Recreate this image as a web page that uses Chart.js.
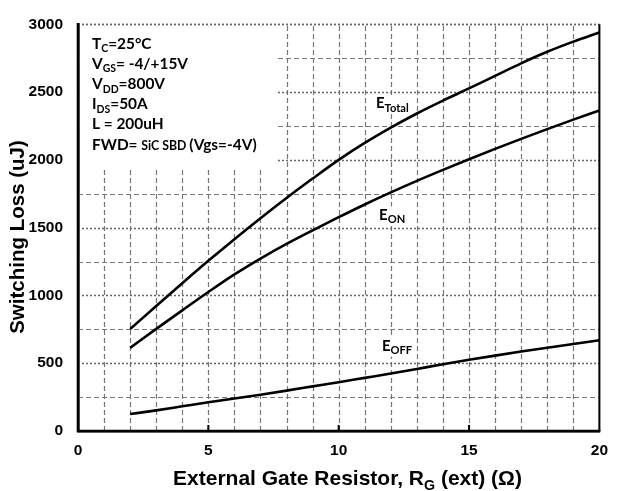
<!DOCTYPE html>
<html>
<head>
<meta charset="utf-8">
<script src="https://cdn.jsdelivr.net/npm/chart.js@4.4.1/dist/chart.umd.min.js"></script>
<style>
  html, body { margin: 0; padding: 0; background: #fff; }
</style>
</head>
<body>
<canvas id="chart" width="618" height="491"></canvas>
<script>
// gate resistance (ohm) and switching losses (uJ)
const rg     = [2, 3, 4, 5, 6, 7, 8, 9, 10, 11, 12, 13, 14, 15, 16, 17, 18, 19, 20];
const eTotal = [752, 922, 1090, 1255, 1415, 1570, 1719, 1862, 2000, 2125, 2238, 2342, 2437, 2527, 2620, 2712, 2797, 2872, 2940];
const eOn    = [613, 753, 890, 1025, 1155, 1272, 1380, 1480, 1577, 1671, 1760, 1845, 1926, 2005, 2081, 2155, 2227, 2297, 2364];
const eOff   = [125, 152, 182, 212, 240, 268, 298, 329, 360, 392, 424, 458, 492, 525, 556, 586, 614, 642, 669];

const seriesNames = ['Total', 'ON', 'OFF'];
// where the curve labels sit (data units)
const labelX = [11.43, 11.55, 11.66];
const labelY = [2381, 1560, 593];

const condLines = [
  [['T', 'n'], ['C', 's'], ['=25°C', 'n']],
  [['V', 'n'], ['GS', 's'], ['= -4/+15V', 'n']],
  [['V', 'n'], ['DD', 's'], ['=800V', 'n']],
  [['I', 'n'], ['DS', 's'], ['=50A', 'n']],
  [['L = 200uH', 'n']],
  [['FWD= ', 'n'], ['SiC SBD ', 'c'], ['(Vgs=-4V)', 'n']]
];

const toPts = ys => ys.map((y, i) => ({ x: rg[i], y: y }));

function rich(ctx, parts, x, y, size, family, draw, subRatio) {
  const sr = subRatio || 0.68;
  let cx = x;
  for (const [t, k] of parts) {
    const fs = k === 'n' ? size : (k === 's' ? size * sr : size * 0.8);
    ctx.font = 'bold ' + fs + 'px ' + family;
    const dy = k === 's' ? size * 0.22 : 0;
    if (draw) ctx.fillText(t, cx, y + dy);
    cx += ctx.measureText(t).width;
  }
  return cx - x;
}

const decor = {
  id: 'decor',
  beforeDatasetsDraw(chart) {
    const { ctx, chartArea: a, scales: { x, y } } = chart;
    ctx.save();
    // dashed grid
    x.ticks.forEach(t => {
      if (t.value === 0) return;
      const px = Math.round(x.getPixelForValue(t.value)) + 0.5;
      ctx.strokeStyle = '#777';
      ctx.lineWidth = 1.2;
      ctx.setLineDash([5, 3]);
      ctx.beginPath();
      ctx.moveTo(px, a.bottom);
      ctx.lineTo(px, a.top);
      ctx.stroke();
    });
    y.ticks.forEach(t => {
      if (t.value === 0) return;
      const py = Math.round(y.getPixelForValue(t.value)) + 0.5;
      const major = t.value % 500 === 0;
      ctx.strokeStyle = major ? '#666' : '#777';
      ctx.lineWidth = t.value === 3000 ? 1.8 : (major ? 1.5 : 1.2);
      ctx.setLineDash(major ? [2, 2] : [5, 3]);
      ctx.beginPath();
      ctx.moveTo(a.left, py);
      ctx.lineTo(a.right, py);
      ctx.stroke();
    });
    ctx.setLineDash([]);
    // white box behind the test conditions
    ctx.fillStyle = '#fff';
    const bx = x.getPixelForValue(7.6), by = y.getPixelForValue(1930);
    ctx.fillRect(a.left + 2, a.top + 2, bx - a.left - 2, by - a.top - 2);
    // frame lines
    ctx.strokeStyle = '#000';
    ctx.lineWidth = 2;
    ctx.beginPath();
    ctx.moveTo(a.right, a.top);
    ctx.lineTo(a.right, a.bottom);
    ctx.stroke();
    ctx.lineWidth = 2.6;
    ctx.beginPath();
    ctx.moveTo(a.left, a.top - 1);
    ctx.lineTo(a.left, a.bottom);
    ctx.lineTo(a.right + 1, a.bottom);
    ctx.stroke();
    // small tick marks on bottom axis
    ctx.lineWidth = 2;
    [5, 10, 15].forEach(v => {
      const px = x.getPixelForValue(v);
      ctx.beginPath();
      ctx.moveTo(px, a.bottom);
      ctx.lineTo(px, a.bottom - 6);
      ctx.stroke();
    });
    // curve labels with white background
    ctx.fillStyle = '#000';
    ctx.textBaseline = 'alphabetic';
    seriesNames.forEach((n, i) => {
      const px = x.getPixelForValue(labelX[i]);
      const py = y.getPixelForValue(labelY[i]);
      const parts = [['E', 'n'], [n, 's']];
      const w = rich(ctx, parts, px, py, 15, 'Lato', false, 0.74);
      ctx.fillStyle = '#fff';
      ctx.fillRect(px - 2, py - 13, w + 4, 19);
      ctx.fillStyle = '#000';
      rich(ctx, parts, px, py, 15, 'Lato', true, 0.74);
    });
    // test conditions
    condLines.forEach((parts, i) => {
      rich(ctx, parts, 92, 49 + i * 20.1, 15.4, 'Lato', true);
    });
    ctx.restore();
  },
  afterDraw(chart) {
    const { ctx } = chart;
    ctx.save();
    ctx.fillStyle = '#000';
    ctx.textBaseline = 'alphabetic';
    // x axis title
    const xt = [['External Gate Resistor, R', 'n'], ['G', 's'], [' (ext) (\u03A9)', 'n']];
    const fam = '"Liberation Sans", Arial, sans-serif';
    const w = rich(ctx, xt, 0, 0, 21, fam, false);
    rich(ctx, xt, 347.5 - w / 2, 485, 21, fam, true);
    // y axis title
    ctx.translate(24, 237);
    ctx.rotate(-Math.PI / 2);
    ctx.font = 'bold 20.5px ' + fam;
    ctx.textAlign = 'center';
    ctx.fillText('Switching Loss (uJ)', 0, 0);
    ctx.restore();
  }
};

const tickFont = { family: '"Liberation Sans", Arial, sans-serif', size: 15.5, weight: 'bold' };

new Chart(document.getElementById('chart'), {
  type: 'line',
  data: {
    datasets: [
      { label: 'ETotal', data: toPts(eTotal) },
      { label: 'EON', data: toPts(eOn) },
      { label: 'EOFF', data: toPts(eOff) }
    ].map(d => Object.assign(d, {
      borderColor: '#000',
      borderWidth: 2.6,
      pointRadius: 0,
      fill: false,
      cubicInterpolationMode: 'monotone'
    }))
  },
  options: {
    responsive: false,
    animation: false,
    devicePixelRatio: 1,
    layout: { padding: { top: 23, right: 17, left: 0, bottom: 0 } },
    plugins: { legend: { display: false }, tooltip: { enabled: false } },
    scales: {
      x: {
        type: 'linear',
        min: 0, max: 20,
        afterFit: s => { s.height = 60; },
        ticks: {
          stepSize: 1,
          autoSkip: false,
          maxRotation: 0,
          padding: 10,
          color: '#000',
          font: tickFont,
          callback: v => (v % 5 === 0 ? v : '')
        },
        grid: { color: 'rgba(0,0,0,0)', drawTicks: false },
        border: { color: '#000', width: 2.6 }
      },
      y: {
        min: 0, max: 3000,
        afterFit: s => { s.width = 78; },
        ticks: {
          stepSize: 250,
          autoSkip: false,
          padding: 15,
          color: '#000',
          font: tickFont,
          callback: v => (v % 500 === 0 ? v : '')
        },
        grid: { color: 'rgba(0,0,0,0)', drawTicks: false },
        border: { color: '#000', width: 2.6 }
      }
    }
  },
  plugins: [decor]
});
</script>
</body>
</html>
